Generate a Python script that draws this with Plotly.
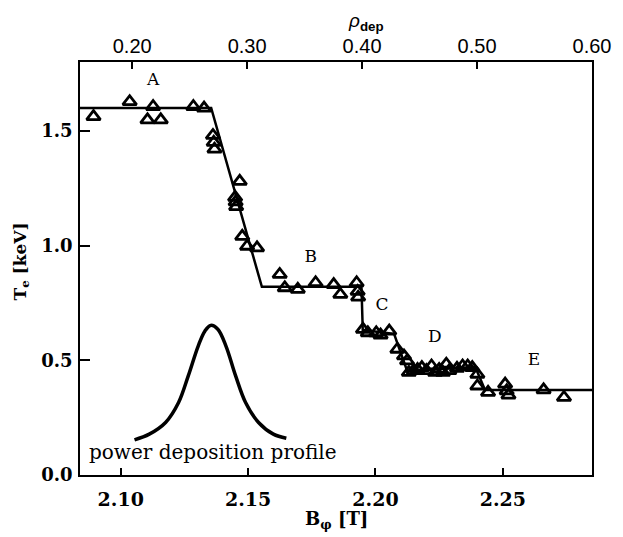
import plotly.graph_objects as go

# Measured data (B_phi [T], Te [keV])
b_data = [2.0893, 2.1035, 2.1127, 2.1105, 2.1157, 2.1285, 2.1327,
          2.1362, 2.1365, 2.1368, 2.1467, 2.1449, 2.1451, 2.1453,
          2.1477, 2.1496, 2.1535, 2.1624, 2.1644, 2.1695, 2.1765,
          2.1836, 2.1862, 2.1926, 2.1930, 2.1932,
          2.1951, 2.1970, 2.2003, 2.2020, 2.2054, 2.2086, 2.2112, 2.2124,
          2.2131, 2.2150, 2.2165, 2.2182, 2.2200, 2.2220, 2.2234, 2.2250,
          2.2265, 2.2278, 2.2290, 2.2320, 2.2342, 2.2362, 2.2380, 2.2400,
          2.2400, 2.2442, 2.2509, 2.2515, 2.2522, 2.2660, 2.2740]
te_data = [1.562, 1.627, 1.606, 1.548, 1.548, 1.606, 1.599,
           1.480, 1.450, 1.420, 1.280, 1.210, 1.190, 1.170,
           1.040, 0.997, 0.990, 0.874, 0.816, 0.809, 0.838,
           0.830, 0.787, 0.838, 0.800, 0.775,
           0.635, 0.620, 0.620, 0.610, 0.627, 0.548, 0.519, 0.497,
           0.447, 0.455, 0.460, 0.468, 0.455, 0.475, 0.447, 0.460,
           0.447, 0.483, 0.455, 0.465, 0.475, 0.475, 0.468, 0.439,
           0.388, 0.360, 0.396, 0.367, 0.348, 0.371, 0.338]

# Piecewise fit line
b_fit = [2.084, 2.1355, 2.1554, 2.1945, 2.1950, 2.2073, 2.2124, 2.2392, 2.2430, 2.285]
te_fit = [1.600, 1.600, 0.820, 0.820, 0.632, 0.615, 0.455, 0.470, 0.371, 0.371]

# Power deposition profile curve
b_prof = [2.1054, 2.1112, 2.1176, 2.1227, 2.1265, 2.1304, 2.1330, 2.1353,
          2.1381, 2.1413, 2.1451, 2.1490, 2.1541, 2.1599, 2.1650]
te_prof = [0.153, 0.178, 0.229, 0.316, 0.432, 0.562, 0.627, 0.652,
           0.635, 0.562, 0.432, 0.316, 0.229, 0.178, 0.160]

# Region labels
lab_text = ["A", "B", "C", "D", "E"]
lab_b = [2.1127, 2.1746, 2.2026, 2.2233, 2.2622]
lab_te = [1.719, 0.947, 0.736, 0.599, 0.497]

# Axis ticks
x_ticks = [2.10, 2.15, 2.20, 2.25]
x_ticktext = ["2.10", "2.15", "2.20", "2.25"]
y_ticks = [0.0, 0.5, 1.0, 1.5]
y_ticktext = ["0.0", "0.5", "1.0", "1.5"]
rho_ticks = [0.20, 0.30, 0.40, 0.50, 0.60]
rho_ticktext = ["0.20", "0.30", "0.40", "0.50", "0.60"]

SERIF = "DejaVu Serif"
SANS = "Liberation Sans"

fig = go.Figure()
fig.add_trace(go.Scatter(x=b_fit, y=te_fit, mode="lines",
                         line=dict(color="black", width=2.5), hoverinfo="skip"))
fig.add_trace(go.Scatter(x=b_prof, y=te_prof, mode="lines",
                         line=dict(color="black", width=3.5, shape="spline"),
                         hoverinfo="skip"))
fig.add_trace(go.Scatter(x=b_data, y=te_data, mode="markers",
                         marker=dict(symbol="triangle-up-open", size=12,
                                     color="black", line=dict(width=2.8, color="black"))))
fig.add_trace(go.Scatter(x=lab_b, y=lab_te, mode="text", text=lab_text,
                         textfont=dict(family=SERIF, size=17, color="black"),
                         hoverinfo="skip"))
# invisible trace to anchor the top rho axis
fig.add_trace(go.Scatter(x=rho_ticks, y=[0.9] * len(rho_ticks), xaxis="x2",
                         mode="markers", marker=dict(opacity=0), hoverinfo="skip"))

# The page body has an 8 px default margin, so the figure is 8 px smaller
fig.update_layout(
    width=615, height=529,
    margin=dict(l=72, r=20, t=54, b=62),
    paper_bgcolor="white", plot_bgcolor="white",
    showlegend=False,
    xaxis=dict(range=[2.084, 2.285], tickvals=x_ticks, ticktext=x_ticktext,
               ticks="inside", ticklen=7, tickwidth=1.5, tickcolor="black",
               showline=True, linecolor="black", linewidth=1.5, mirror=True,
               showgrid=False, zeroline=False, ticklabelstandoff=6,
               tickfont=dict(family=SERIF, size=19, color="black", weight="bold")),
    xaxis2=dict(range=[0.1546, 0.60], tickvals=rho_ticks, ticktext=rho_ticktext,
                overlaying="x", side="top", anchor="y",
                ticks="inside", ticklen=7, tickwidth=1.5, tickcolor="black",
                showline=True, linecolor="black", linewidth=1.5,
                showgrid=False, zeroline=False, ticklabelstandoff=-1,
                tickfont=dict(family=SANS, size=20, color="black")),
    yaxis=dict(range=[0, 1.8], tickvals=y_ticks, ticktext=y_ticktext,
               ticks="inside", ticklen=10, tickwidth=1.5, tickcolor="black",
               showline=True, linecolor="black", linewidth=1.5, mirror=True,
               showgrid=False, zeroline=False, ticklabelstandoff=2,
               tickfont=dict(family=SERIF, size=18, color="black", weight="bold")),
    annotations=[
        dict(text="power deposition profile", x=2.0868, y=0.1, xref="x", yref="y",
             xanchor="left", yanchor="middle", showarrow=False,
             font=dict(family=SERIF, size=20, color="black")),
        dict(text="B<sub>φ</sub> [T]", x=0.5, y=-0.11, xref="paper", yref="paper",
             xanchor="center", yanchor="middle", showarrow=False,
             font=dict(family=SERIF, size=18, color="black", weight="bold")),
        dict(text="T<sub>e</sub> [keV]", x=-0.114, y=0.516, xref="paper", yref="paper",
             xanchor="center", yanchor="middle", showarrow=False, textangle=-90,
             font=dict(family=SERIF, size=17, color="black", weight="bold")),
        dict(text="<i>ρ</i><sub><b>dep</b></sub>", x=0.558, y=1.098, xref="paper", yref="paper",
             xanchor="center", yanchor="middle", showarrow=False,
             font=dict(family=SANS, size=19, color="black")),
    ],
)

fig.write_html("out.html")
